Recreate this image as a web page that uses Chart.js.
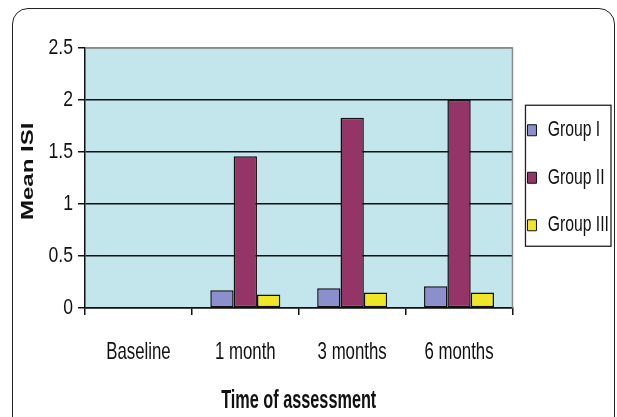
<!DOCTYPE html>
<html>
<head>
<meta charset="utf-8">
<script src="https://cdn.jsdelivr.net/npm/chart.js@4"></script>
<style>
  html, body { margin: 0; padding: 0; background: #fff; }
  #wrap { position: relative; width: 617px; height: 417px; overflow: hidden; }
  #frame { position: absolute; left: 12px; top: 8px; width: 603px; height: 430px;
           border: 1.8px solid #222; border-radius: 16px; box-sizing: border-box; }
  canvas { position: absolute; left: 0; top: 0; }
</style>
</head>
<body>
<div id="wrap">
  <div id="frame"></div>
  <canvas id="c" width="617" height="417"></canvas>
</div>
<script>
const categories = ['Baseline', '1 month', '3 months', '6 months'];
const groupI   = [0, 0.17, 0.19, 0.21];
const groupII  = [0, 1.46, 1.83, 2.0];
const groupIII = [0, 0.13, 0.15, 0.15];
const seriesNames = ['Group I', 'Group II', 'Group III'];
const yTicks = [0, 0.5, 1, 1.5, 2, 2.5];

const FONT = '"Liberation Sans", Arial, sans-serif';

// Condensed lettering: squeeze every glyph run horizontally (in screen space)
// around its anchor, and report the squeezed widths to the layout code.
const canvas = document.getElementById('c');
const ctx2d = canvas.getContext('2d');
const squeezeFor = font => (/bold/.test(font) ? 0.65 : /\b22px/.test(font) ? 0.8 : 0.7);
const origFill = ctx2d.fillText.bind(ctx2d);
const origMeasure = ctx2d.measureText.bind(ctx2d);
ctx2d.fillText = function (text, x, y, maxWidth) {
  const f = squeezeFor(this.font);
  const m = this.getTransform();
  const p = m.transformPoint(new DOMPoint(x, y));
  this.save();
  this.setTransform(new DOMMatrix().translate(p.x, p.y).scale(f, 1).translate(-p.x, -p.y).multiply(m));
  origFill(text, x, y);
  this.restore();
};
ctx2d.measureText = function (text) {
  const m = origMeasure(text);
  const f = squeezeFor(this.font);
  return {
    width: m.width * f,
    actualBoundingBoxLeft: m.actualBoundingBoxLeft * f,
    actualBoundingBoxRight: m.actualBoundingBoxRight * f,
    actualBoundingBoxAscent: m.actualBoundingBoxAscent,
    actualBoundingBoxDescent: m.actualBoundingBoxDescent
  };
};

// plot background and the grey frame on top/right of the plot
const plotArea = {
  id: 'plotArea',
  beforeDraw(chart) {
    const { ctx, chartArea: a } = chart;
    ctx.save();
    ctx.fillStyle = '#c2e6ec';
    ctx.fillRect(a.left, a.top, a.right - a.left, a.bottom - a.top);
    ctx.restore();
  },
  afterDatasetsDraw(chart) {
    const { ctx, chartArea: a } = chart;
    ctx.save();
    ctx.strokeStyle = '#8a8a8a';
    ctx.lineWidth = 1.5;
    ctx.beginPath();
    ctx.moveTo(a.left, a.top);
    ctx.lineTo(a.right, a.top);
    ctx.lineTo(a.right, a.bottom);
    ctx.stroke();
    ctx.restore();
  }
};

// legend sits a little closer to the plot, inside a thin box
const legendFrame = {
  id: 'legendFrame',
  afterLayout(chart) {
    const lg = chart.legend;
    if (!lg) return;
    lg.left -= 10;
    lg.right -= 10;
  },
  afterDraw(chart) {
    const lg = chart.legend;
    if (!lg || !lg.legendHitBoxes.length) return;
    const hb = lg.legendHitBoxes;
    const c0 = hb[0].top + hb[0].height / 2;
    const cN = hb[hb.length - 1].top + hb[hb.length - 1].height / 2;
    const top = c0 - 25;
    const bottom = cN + 21;
    const left = Math.min(...hb.map(h => h.left)) - 2;
    const right = 611;
    const { ctx } = chart;
    ctx.save();
    ctx.strokeStyle = '#222';
    ctx.lineWidth = 1.3;
    ctx.strokeRect(left, top, right - left, bottom - top);
    ctx.restore();
  }
};

new Chart(canvas, {
  type: 'bar',
  data: {
    labels: categories,
    datasets: [
      { label: seriesNames[0], data: groupI,   backgroundColor: '#8b8fcb' },
      { label: seriesNames[1], data: groupII,  backgroundColor: '#953466' },
      { label: seriesNames[2], data: groupIII, backgroundColor: '#eee626' }
    ].map(d => Object.assign(d, {
      borderColor: '#111', borderWidth: 1.5, borderSkipped: false,
      categoryPercentage: 0.655, barPercentage: 1.0
    }))
  },
  options: {
    responsive: false,
    animation: false,
    layout: { padding: { top: 48, right: -12, bottom: 1, left: 0 } },
    plugins: {
      tooltip: { enabled: false },
      legend: {
        position: 'right',
        align: 'start',
        title: { display: true, text: '', font: { family: FONT, size: 20 }, padding: { top: 0, bottom: 22 } },
        labels: {
          color: '#111',
          font: { family: FONT, size: 22.5 },
          boxWidth: 9, boxHeight: 11,
          padding: 25,
          generateLabels(chart) {
            return chart.data.datasets.map((ds, i) => ({
              text: ds.label, fillStyle: ds.backgroundColor, fontColor: '#111',
              strokeStyle: '#111', lineWidth: 1, hidden: false, datasetIndex: i
            }));
          }
        }
      }
    },
    scales: {
      x: {
        afterFit(s) { s.height = 108; },
        grid: { offset: true, drawOnChartArea: false, drawTicks: true, tickLength: 7, color: '#111', lineWidth: 1.5 },
        border: { color: '#111', width: 1.5 },
        ticks: { color: '#111', font: { family: FONT, size: 24 }, padding: 23, maxRotation: 0 },
        title: { display: true, text: 'Time of assessment', color: '#111',
                 font: { family: FONT, size: 25, weight: 'bold' }, padding: { top: 0, bottom: 0 } }
      },
      y: {
        min: 0, max: 2.5,
        afterFit(s) { s.width = 85; },
        afterBuildTicks(s) { s.ticks = yTicks.map(v => ({ value: v })); },
        grid: {
          color: ctx => (ctx.tick && ctx.tick.value === 2.5 ? '#8a8a8a' : '#111'),
          lineWidth: 1.5, drawTicks: true, tickLength: 7,
          tickColor: '#111'
        },
        border: { color: '#111', width: 1.5 },
        ticks: { color: '#111', font: { family: FONT, size: 22 }, padding: 5,
                 callback: v => String(v) },
        title: { display: true, text: '  Mean ISI', color: '#111',
                 font: { family: FONT, size: 24, weight: 'bold' }, padding: { top: 14, bottom: 0 } }
      }
    }
  },
  plugins: [plotArea, legendFrame]
});
</script>
</body>
</html>
